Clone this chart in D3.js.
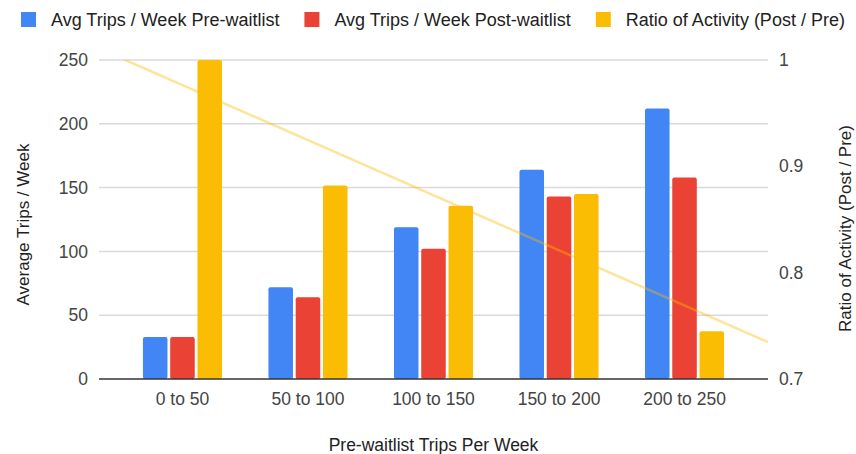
<!DOCTYPE html>
<html lang="en">
<head>
<meta charset="utf-8">
<title>Trips per week, pre and post waitlist</title>
<script src="https://cdn.jsdelivr.net/npm/d3@7"></script>
<style>
  body { margin: 0; background: #fff; }
  text { font-family: "Liberation Sans", Arial, sans-serif; }
</style>
</head>
<body>
<script>
// data
var categories = ["0 to 50", "50 to 100", "100 to 150", "150 to 200", "200 to 250"];
var seriesNames = ["Avg Trips / Week Pre-waitlist", "Avg Trips / Week Post-waitlist", "Ratio of Activity (Post / Pre)"];
var preTrips = [33, 72, 119, 164, 212];
var postTrips = [33, 64, 102, 143, 158];
var ratio = [1.0, 0.882, 0.863, 0.874, 0.745];
var leftTicks = [0, 50, 100, 150, 200, 250];
var rightTicks = [0.7, 0.8, 0.9, 1];
var colors = ["#4285f4", "#ea4335", "#fbbc04"];

var w = 856, h = 454;
var plotL = 99, plotR = 768, plotT = 60, plotB = 379;

var svg = d3.select("body").append("svg")
  .attr("width", w)
  .attr("height", h);

var x = d3.scaleBand()
  .domain(categories)
  .range([plotL, plotR])
  .paddingInner(0.37)
  .paddingOuter(0.35);

var xInner = d3.scaleBand()
  .domain([0, 1, 2])
  .range([0, x.bandwidth()])
  .paddingInner(0.1);

var yLeft = d3.scaleLinear().domain([0, 250]).range([plotB, plotT]);
var yRight = d3.scaleLinear().domain([0.7, 1]).range([plotB, plotT]);

// gridlines
svg.append("g").selectAll("line")
  .data(leftTicks.filter(function(d) { return d > 0; }))
  .enter().append("line")
  .attr("x1", plotL).attr("x2", plotR)
  .attr("y1", function(d) { return yLeft(d); })
  .attr("y2", function(d) { return yLeft(d); })
  .attr("stroke", "#dadada")
  .attr("stroke-width", 1.5);

// left axis labels
svg.append("g").selectAll("text")
  .data(leftTicks)
  .enter().append("text")
  .attr("x", 88)
  .attr("y", function(d) { return yLeft(d); })
  .attr("dy", "0.35em")
  .attr("text-anchor", "end")
  .attr("font-size", 17.5)
  .attr("fill", "#444")
  .text(function(d) { return d; });

// right axis labels
svg.append("g").selectAll("text")
  .data(rightTicks)
  .enter().append("text")
  .attr("x", 779)
  .attr("y", function(d) { return yRight(d); })
  .attr("dy", "0.35em")
  .attr("font-size", 17.5)
  .attr("fill", "#444")
  .text(function(d) { return d; });

// bars
var rows = categories.map(function(c, i) {
  return { cat: c, vals: [yLeft(preTrips[i]), yLeft(postTrips[i]), yRight(ratio[i])] };
});

var groups = svg.append("g").selectAll("g")
  .data(rows)
  .enter().append("g")
  .attr("transform", function(d) { return "translate(" + x(d.cat) + ",0)"; });

groups.selectAll("rect")
  .data(function(d) { return d.vals; })
  .enter().append("rect")
  .attr("x", function(d, j) { return xInner(j); })
  .attr("y", function(d) { return d; })
  .attr("width", xInner.bandwidth())
  .attr("height", function(d) { return plotB - d; })
  .attr("rx", 2)
  .attr("fill", function(d, j) { return colors[j]; });

// linear trendline on the ratio series
var idx = d3.range(ratio.length);
var mx = d3.mean(idx), my = d3.mean(ratio);
var slope = d3.sum(idx, function(i) { return (i - mx) * (ratio[i] - my); }) /
            d3.sum(idx, function(i) { return (i - mx) * (i - mx); });
var icpt = my - slope * mx;
var step = x.step();
var c0 = x(categories[0]) + x.bandwidth() / 2;
function trendAt(px) { return icpt + slope * (px - c0) / step; }

svg.append("clipPath").attr("id", "plotclip")
  .append("rect").attr("x", plotL).attr("y", plotT)
  .attr("width", plotR - plotL).attr("height", plotB - plotT);

svg.append("line")
  .attr("clip-path", "url(#plotclip)")
  .attr("x1", plotL).attr("y1", yRight(trendAt(plotL)))
  .attr("x2", plotR).attr("y2", yRight(trendAt(plotR)))
  .attr("stroke", colors[2])
  .attr("stroke-opacity", 0.4)
  .attr("stroke-width", 2.5);

// baseline
svg.append("line")
  .attr("x1", plotL).attr("x2", plotR)
  .attr("y1", plotB).attr("y2", plotB)
  .attr("stroke", "#333")
  .attr("stroke-width", 1.5);

// category labels
svg.append("g").selectAll("text")
  .data(categories)
  .enter().append("text")
  .attr("x", function(d) { return x(d) + x.bandwidth() / 2; })
  .attr("y", 405)
  .attr("text-anchor", "middle")
  .attr("font-size", 17.5)
  .attr("fill", "#444")
  .text(function(d) { return d; });

// axis titles
svg.append("text")
  .attr("x", (plotL + plotR) / 2)
  .attr("y", 451)
  .attr("text-anchor", "middle")
  .attr("font-size", 17.5)
  .attr("fill", "#222")
  .text("Pre-waitlist Trips Per Week");

svg.append("text")
  .attr("transform", "translate(29," + ((plotT + plotB) / 2 + 5) + ") rotate(-90)")
  .attr("text-anchor", "middle")
  .attr("font-size", 17)
  .attr("fill", "#222")
  .text("Average Trips / Week");

svg.append("text")
  .attr("transform", "translate(851," + ((plotT + plotB) / 2 + 9) + ") rotate(-90)")
  .attr("text-anchor", "middle")
  .attr("font-size", 17)
  .attr("fill", "#222")
  .text("Ratio of Activity (Post / Pre)");

// legend
var lx = 21;
seriesNames.forEach(function(name, i) {
  svg.append("rect")
    .attr("x", lx).attr("y", 12)
    .attr("width", 15).attr("height", 15)
    .attr("fill", colors[i]);
  var t = svg.append("text")
    .attr("x", lx + 30).attr("y", 26)
    .attr("font-size", 18)
    .attr("fill", "#222")
    .text(name);
  lx += 30 + t.node().getComputedTextLength() + 25;
});
</script>
</body>
</html>
